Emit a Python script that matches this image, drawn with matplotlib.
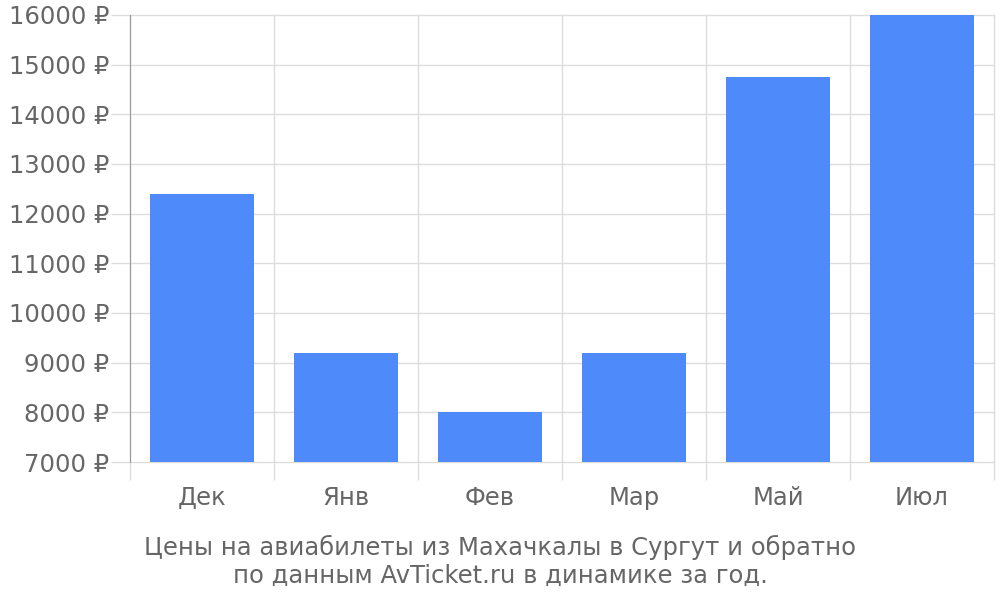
import matplotlib
matplotlib.use("Agg")
import matplotlib.pyplot as plt
import numpy as np

categories = ["Дек", "Янв", "Фев", "Мар", "Май", "Июл"]
prices = [12400, 9200, 8000, 9200, 14750, 16000]
y_ticks = [7000, 8000, 9000, 10000, 11000, 12000, 13000, 14000, 15000, 16000]
caption = "Цены на авиабилеты из Махачкалы в Сургут и обратно\nпо данным AvTicket.ru в динамике за год."

plt.rcParams['font.family'] = ['DejaVu Sans']
fig = plt.figure(figsize=(10, 6), dpi=100)
ax = fig.add_axes([0.13, 0.23, 0.864, 0.745])

x = np.arange(len(categories))
ax.bar(x, [p - 7000 for p in prices], bottom=7000, width=0.72, color="#4e8af9", zorder=3)

ax.set_xlim(-0.5, len(categories) - 0.5)
ax.set_ylim(7000, 16000)
ax.set_yticks(y_ticks)
ax.set_yticklabels([f"{v} ₽" for v in y_ticks])
ax.set_xticks(x)
ax.set_xticklabels(categories)
ax.set_xticks(np.arange(-0.5, len(categories)), minor=True)

ax.tick_params(axis='x', which='major', length=0, pad=17, labelsize=17.5, labelcolor="#666666")
ax.tick_params(axis='x', which='minor', length=13, width=1, color="#dddddd")
ax.tick_params(axis='y', which='major', length=14, width=1, color="#dddddd", pad=1,
               labelsize=17.5, labelcolor="#666666")

ax.grid(True, axis='y', which='major', color="#dddddd", linewidth=1, zorder=0)
ax.grid(True, axis='x', which='minor', color="#dddddd", linewidth=1, zorder=0)
ax.grid(False, axis='x', which='major')
for t in ax.xaxis.get_minor_ticks() + ax.yaxis.get_major_ticks():
    t.gridline.set_clip_on(False)

for s in ["top", "right", "bottom"]:
    ax.spines[s].set_visible(False)
ax.spines["left"].set_color("#999999")
ax.spines["left"].set_zorder(4)

minor_ticks = ax.xaxis.get_minor_ticks()
minor_ticks[0].tick1line.set_color("#999999")

fig.text(0.5, 0.064, caption, ha="center", va="center", fontsize=17.5, color="#666666",
         linespacing=1.2)

fig.savefig("out.png", dpi=100)
